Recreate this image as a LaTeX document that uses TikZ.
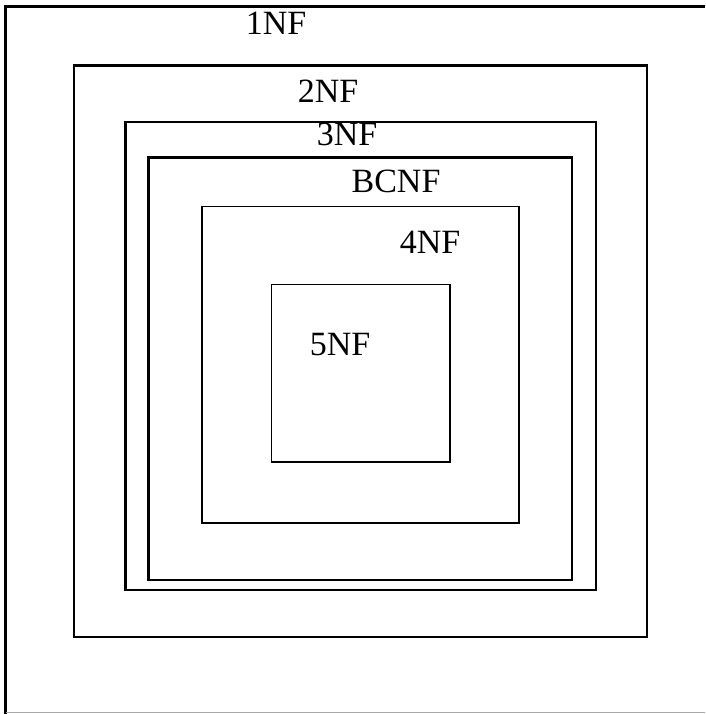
\documentclass[tikz,border=0pt]{standalone}
\usepackage{fontspec}
\setmainfont{Liberation Serif}
\begin{document}
\begin{tikzpicture}[x=1pt,y=-1pt,
  nflabel/.style={anchor=base,inner sep=0pt,font=\fontsize{34}{40}\selectfont},
  nfbox/.style={draw=black,fill=none}]
\useasboundingbox (0,0) rectangle (705,714);
% outer frame: heavy top and left edges, light bottom edge
\draw[line width=3pt] (5.8,714) -- (5.8,6.5) -- (705,6.5);
\draw[gray!70,line width=1.2pt] (5.8,712.5) -- (705,712.5);
% nested normal-form boxes
\draw[nfbox,line width=2.6pt] (74,65.5) rectangle (647,637);
\draw[nfbox,line width=2.3pt] (125.5,122) rectangle (596,590);
\draw[nfbox,line width=2.3pt] (148.5,157.5) rectangle (572,580);
\draw[nfbox,line width=1.8pt] (202,206.5) rectangle (519,523);
\draw[nfbox,line width=1.2pt] (271.5,284.5) rectangle (450,462);
% labels
\node[nflabel] (l1) at (276,35) {1NF};
\node[nflabel] (l2) at (328,103) {2NF};
\node[nflabel] (l3) at (347,146) {3NF};
\node[nflabel] (lb) at (396,193) {BCNF};
\node[nflabel] (l4) at (430,253) {4NF};
\node[nflabel] (l5) at (340,355) {5NF};
\end{tikzpicture}
\end{document}
